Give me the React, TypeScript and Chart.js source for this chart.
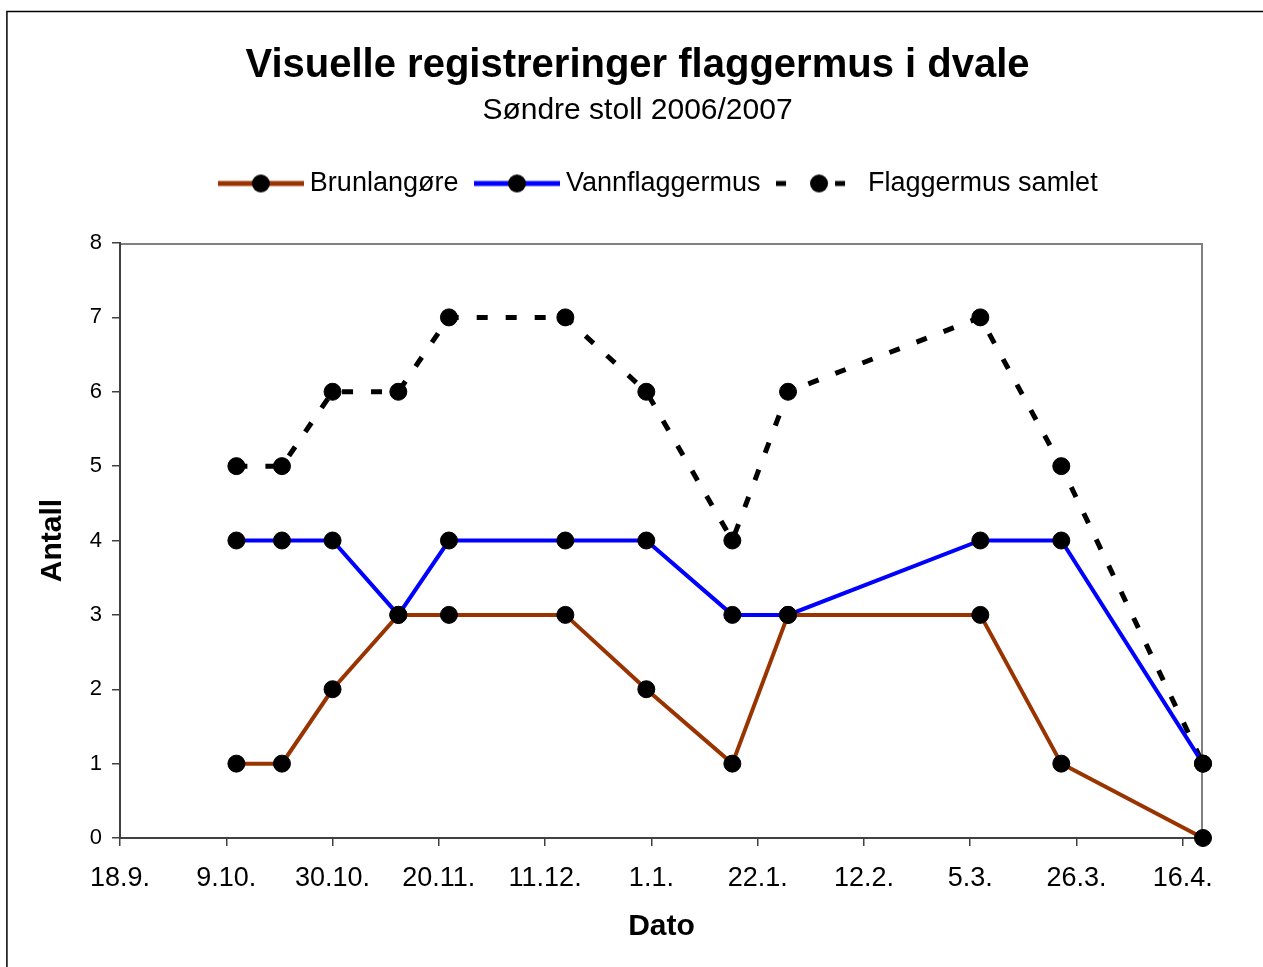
import React, { useEffect, useRef } from 'react';
import { Chart, registerables } from 'chart.js';

Chart.register(...registerables);

const FONT = "'Liberation Sans', Arial, Helvetica, sans-serif";

// ---- data ----
const START_DATE = '2006-09-18';
const AXIS_END_DAY = 214;
const TICK_STEP_DAYS = 21;
const tickLabels = ['18.9.', '9.10.', '30.10.', '20.11.', '11.12.', '1.1.', '22.1.', '12.2.', '5.3.', '26.3.', '16.4.'];
const dates = [
  '2006-10-11', '2006-10-20', '2006-10-30', '2006-11-12', '2006-11-22', '2006-12-15',
  '2006-12-31', '2007-01-17', '2007-01-28', '2007-03-07', '2007-03-23', '2007-04-20',
];
const brunlangore = [1, 1, 2, 3, 3, 3, 2, 1, 3, 3, 1, 0];
const vannflaggermus = [4, 4, 4, 3, 4, 4, 4, 3, 3, 4, 4, 1];
const flaggermusSamlet = [5, 5, 6, 6, 7, 7, 6, 4, 6, 7, 5, 1];
const seriesNames = ['Brunlangøre', 'Vannflaggermus', 'Flaggermus samlet'];
const yMin = 0;
const yMax = 8;

const titleText = 'Visuelle registreringer flaggermus i dvale';
const subtitleText = 'Søndre stoll 2006/2007';
const xTitle = 'Dato';
const yTitle = 'Antall';

const BROWN = '#993300';
const BLUE = '#0000ff';
const BLACK = '#000000';

function dayOffset(d: string): number {
  return Math.round((Date.parse(d) - Date.parse(START_DATE)) / 86400000);
}

function toPoints(values: number[]) {
  return values.map((v, i) => ({ x: dayOffset(dates[i]), y: v }));
}

function makeLegendImage(kind: 'solid' | 'dash', color: string): HTMLCanvasElement {
  const c = document.createElement('canvas');
  c.width = 86;
  c.height = 20;
  const g = c.getContext('2d')!;
  if (kind === 'dash') {
    g.fillStyle = BLACK;
    g.fillRect(0, 7.5, 10, 5);
    g.fillRect(59, 7.5, 10, 5);
  } else {
    g.strokeStyle = color;
    g.lineWidth = 5;
    g.beginPath();
    g.moveTo(0, 10);
    g.lineTo(86, 10);
    g.stroke();
  }
  g.fillStyle = BLACK;
  g.beginPath();
  g.arc(43, 10, 9, 0, Math.PI * 2);
  g.fill();
  return c;
}

const LEGEND_EXTRA = 36;

const legendSpacer = {
  id: 'legendSpacer',
  beforeLayout(chart: any) {
    const lg = chart.legend;
    if (lg && !lg.__patched) {
      const orig = lg.fit.bind(lg);
      lg.fit = function () {
        orig();
        this.height += LEGEND_EXTRA;
      };
      lg.__patched = true;
    }
  },
};

const frame = {
  id: 'frame',
  beforeDraw(chart: any) {
    const { ctx, chartArea: a, width, height } = chart;
    ctx.save();
    ctx.fillStyle = '#ffffff';
    ctx.fillRect(0, 0, width, height);
    ctx.strokeStyle = '#000000';
    ctx.lineWidth = 1.5;
    ctx.strokeRect(6.9, 11.5, width + 20, height + 20);
    ctx.strokeStyle = '#808080';
    ctx.lineWidth = 2;
    ctx.strokeRect(a.left, a.top + 1, a.right - a.left - 1, a.bottom - a.top - 1);
    ctx.restore();
  },
};

export default function App() {
  const ref = useRef<HTMLCanvasElement | null>(null);

  useEffect(() => {
    if (!ref.current) return;
    const legendImages = [
      makeLegendImage('solid', BROWN),
      makeLegendImage('solid', BLUE),
      makeLegendImage('dash', BLACK),
    ];
    const pointCommon = {
      pointRadius: 8.5,
      pointBorderWidth: 1,
      pointBackgroundColor: BLACK,
      pointBorderColor: BLACK,
      pointStyle: 'circle' as const,
      tension: 0,
      fill: false,
      clip: false as any,
    };
    const chart = new Chart(ref.current, {
      type: 'line',
      data: {
        datasets: [
          { label: seriesNames[0], data: toPoints(brunlangore), borderColor: BROWN, borderWidth: 4, ...pointCommon },
          { label: seriesNames[1], data: toPoints(vannflaggermus), borderColor: BLUE, borderWidth: 4, ...pointCommon },
          { label: seriesNames[2], data: toPoints(flaggermusSamlet), borderColor: BLACK, borderWidth: 5, borderDash: [11, 18], ...pointCommon },
        ],
      },
      options: {
        responsive: false,
        animation: false,
        devicePixelRatio: 1,
        events: [],
        layout: { padding: { left: 72, right: 60, top: 10, bottom: 0 } },
        plugins: {
          title: {
            display: true,
            text: titleText,
            color: BLACK,
            font: { family: FONT, size: 40, weight: 'bold' },
            padding: { top: 32, bottom: 0 },
          },
          subtitle: {
            display: true,
            text: subtitleText,
            color: BLACK,
            font: { family: FONT, size: 30, weight: 'normal' },
            padding: { top: 2.6, bottom: 18.4 },
          },
          legend: {
            display: true,
            position: 'top',
            fullSize: false,
            labels: {
              usePointStyle: true,
              pointStyleWidth: 71,
              padding: 23,
              color: BLACK,
              font: { family: FONT, size: 27 },
              generateLabels: (chart: any) => {
                const items = (Chart.defaults.plugins.legend.labels as any).generateLabels(chart);
                return items.map((it: any, i: number) => ({ ...it, pointStyle: legendImages[i], fontColor: BLACK }));
              },
            },
          },
          tooltip: { enabled: false },
        },
        scales: {
          x: {
            type: 'linear',
            min: 0,
            max: AXIS_END_DAY,
            afterFit: (s: any) => { s.height = 129; },
            grid: { display: true, drawOnChartArea: false, drawTicks: true, tickLength: 8, color: '#404040', lineWidth: 1.5 },
            border: { display: true, color: '#404040', width: 2 },
            ticks: {
              stepSize: TICK_STEP_DAYS,
              includeBounds: false,
              autoSkip: false,
              maxRotation: 0,
              padding: 16,
              color: BLACK,
              font: { family: FONT, size: 27 },
              callback: (v: any) => tickLabels[Math.round(Number(v) / TICK_STEP_DAYS)] ?? '',
            },
            title: {
              display: true,
              text: xTitle,
              color: BLACK,
              font: { family: FONT, size: 30, weight: 'bold' },
              padding: { top: 0, bottom: 22 },
            },
          },
          y: {
            type: 'linear',
            min: yMin,
            max: yMax,
            afterFit: (s: any) => { s.width = 48; },
            grid: { display: true, drawOnChartArea: false, drawTicks: true, tickLength: 8, color: '#404040', lineWidth: 1.5 },
            border: { display: true, color: '#404040', width: 2 },
            ticks: {
              stepSize: 1,
              padding: 10,
              color: BLACK,
              font: { family: FONT, size: 22 },
            },
            title: {
              display: true,
              text: yTitle,
              color: BLACK,
              font: { family: FONT, size: 30, weight: 'bold' },
              padding: { top: -37, bottom: 0 },
            },
          },
        },
      } as any,
      plugins: [legendSpacer, frame],
    });
    return () => chart.destroy();
  }, []);

  return (
    <div style={{ position: 'absolute', left: 0, top: 0, width: 1263, height: 967 }}>
      <canvas ref={ref} width={1263} height={967} style={{ display: 'block' }} />
    </div>
  );
}
